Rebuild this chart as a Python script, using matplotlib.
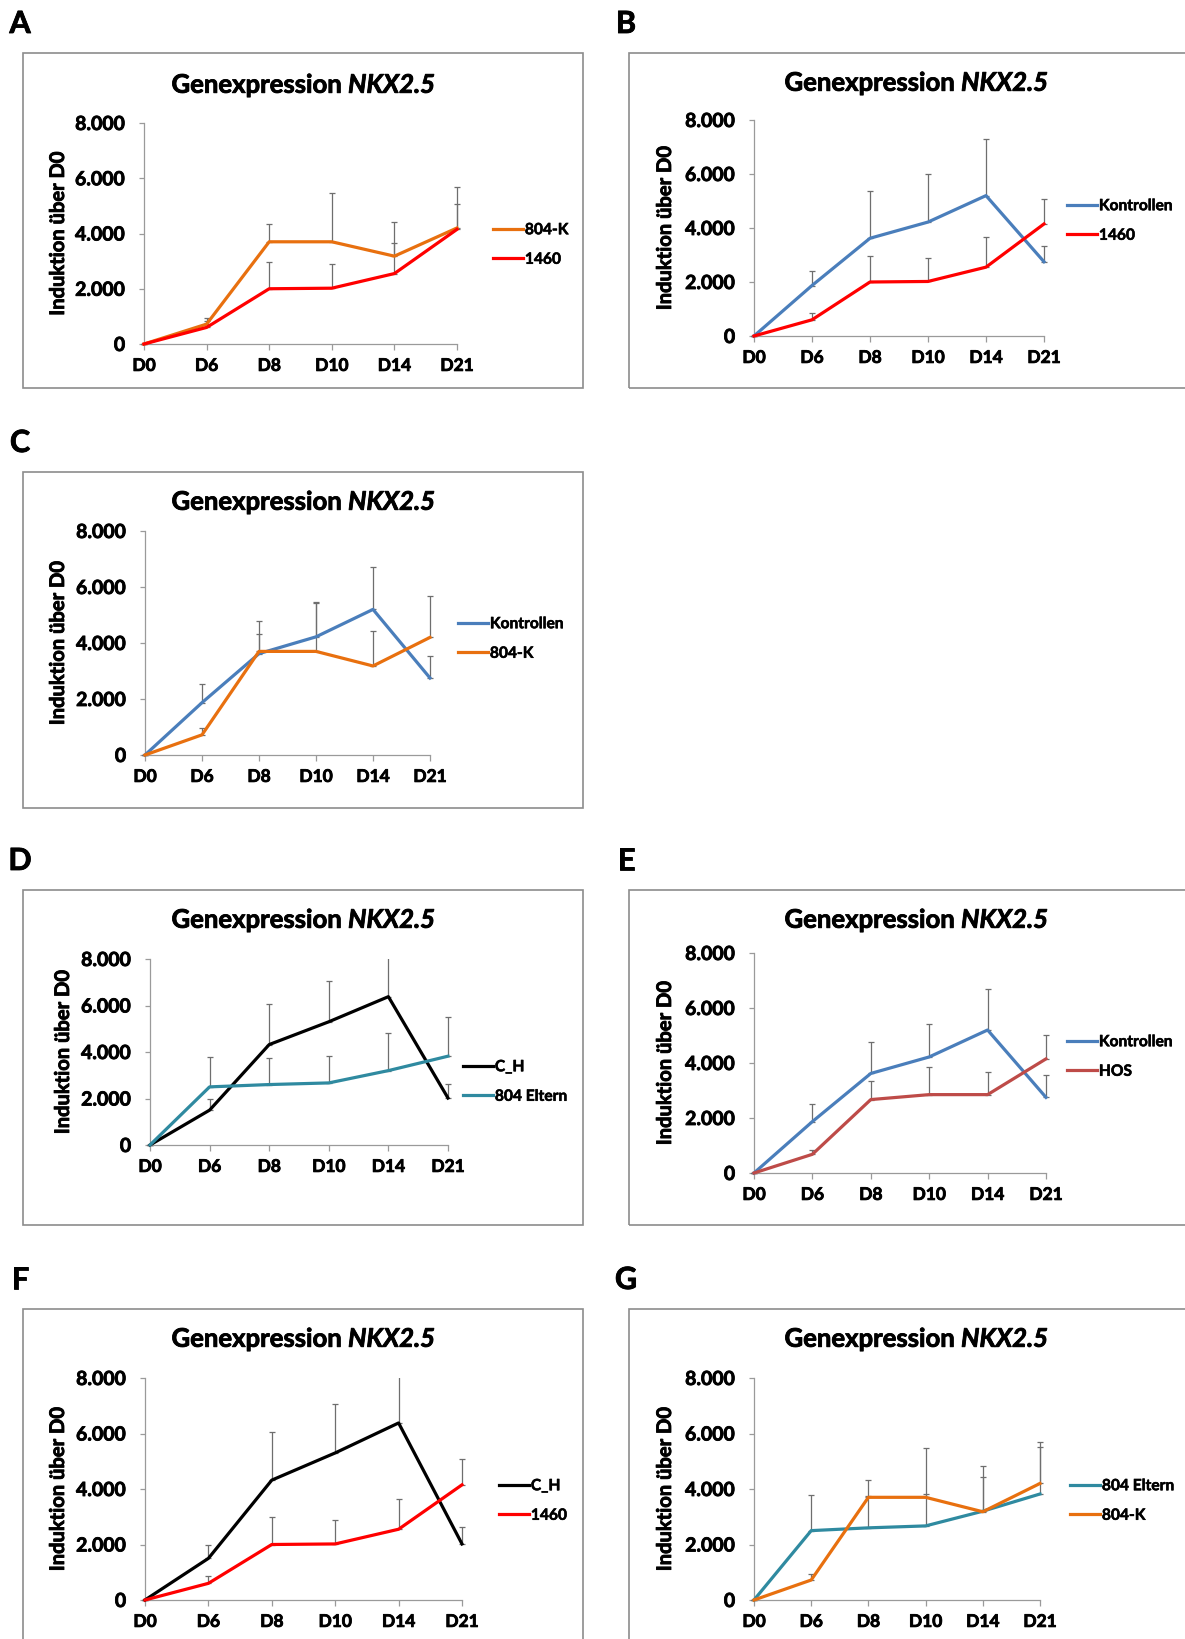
import numpy as np
import matplotlib
matplotlib.use("Agg")
from matplotlib import pyplot as plt
from matplotlib import patheffects as pe
from matplotlib.patches import Rectangle
from matplotlib.ticker import FuncFormatter
from matplotlib.transforms import Bbox, TransformedBbox

plt.rcParams["font.family"] = ["Lato", "DejaVu Sans"]
plt.rcParams["font.weight"] = "bold"
plt.rcParams["mathtext.fontset"] = "custom"
plt.rcParams["mathtext.bfit"] = "Lato:italic:bold"
plt.rcParams["mathtext.rm"] = "Lato:bold"

# categories
days = ["D0", "D6", "D8", "D10", "D14", "D21"]

# series means (Induktion ueber D0)
kontrollen = [0, 1870, 3620, 4220, 5200, 2750]
k804 = [0, 720, 3700, 3700, 3180, 4200]
s1460 = [0, 600, 2000, 2020, 2550, 4150]
c_h = [0, 1500, 4320, 5300, 6380, 2020]
eltern804 = [0, 2500, 2600, 2670, 3200, 3820]
hos = [0, 680, 2670, 2850, 2850, 4150]

# upper error bars
kontrollen_err_b = [0, 550, 1750, 1780, 2100, 600]
kontrollen_err = [0, 650, 1160, 1200, 1500, 800]
k804_err = [0, 230, 630, 1770, 1240, 1480]
s1460_err = [0, 250, 980, 860, 1100, 930]
c_h_err = [0, 500, 1730, 1750, 1700, 600]
eltern804_err = [0, 1300, 1150, 1160, 1630, 1700]
hos_err = [0, 140, 680, 1000, 830, 870]

C_KON = "#4a7ebb"
C_804K = "#e8700f"
C_1460 = "#ff0000"
C_CH = "#000000"
C_ELT = "#2f8aa0"
C_HOS = "#be4b48"

W, H = 1185, 1639
fig = plt.figure(figsize=(W / 100, H / 100), dpi=100)
heavy = [pe.withStroke(linewidth=0.6, foreground="black")]

# letter, box(l,t,r,b), axes(l,r,t,b), title xy, ylabel x, legend xy, series
panels = [
    ("A", (23, 53, 583, 388), (144, 457, 123, 344), (304, 85), 58, (493, 245),
     [("804-K", k804, k804_err, C_804K), ("1460", s1460, s1460_err, C_1460)]),
    ("B", (629, 53, 1205, 388), (754, 1044, 120, 336), (917, 83), 665, (1067, 221),
     [("Kontrollen", kontrollen, kontrollen_err_b, C_KON), ("1460", s1460, s1460_err, C_1460)]),
    ("C", (23, 472, 583, 808), (145, 430, 531, 755), (304, 502), 58, (458, 639),
     [("Kontrollen", kontrollen, kontrollen_err, C_KON), ("804-K", k804, k804_err, C_804K)]),
    ("D", (23, 890, 583, 1225), (150, 448, 959, 1145), (304, 920), 63, (463, 1082),
     [("C_H", c_h, c_h_err, C_CH), ("804 Eltern", eltern804, eltern804_err, C_ELT)]),
    ("E", (629, 890, 1205, 1225), (754, 1046, 953, 1173), (917, 920), 665, (1067, 1057),
     [("Kontrollen", kontrollen, kontrollen_err, C_KON), ("HOS", hos, hos_err, C_HOS)]),
    ("F", (23, 1309, 583, 1660), (145, 462, 1378, 1600), (304, 1339), 58, (499, 1501),
     [("C_H", c_h, c_h_err, C_CH), ("1460", s1460, s1460_err, C_1460)]),
    ("G", (629, 1309, 1205, 1660), (754, 1040, 1378, 1600), (917, 1339), 665, (1070, 1501),
     [("804 Eltern", eltern804, eltern804_err, C_ELT), ("804-K", k804, k804_err, C_804K)]),
]

fmt = FuncFormatter(lambda v, p: "{:,.0f}".format(v).replace(",", "."))
x = np.arange(len(days))

for letter, box, axr, tpos, ylx, lpos, series in panels:
    bl, bt, br, bb = box
    fig.patches.append(Rectangle((bl / W, 1 - bb / H), (br - bl) / W, (bb - bt) / H,
                                 transform=fig.transFigure, fill=False,
                                 edgecolor="#8c8c8c", linewidth=1.2))
    fig.text((bl - 3) / W, 1 - (bt - 29) / H, letter, fontsize=22, fontweight="bold",
             ha="center", va="center", path_effects=heavy)

    l, r, t, b = axr
    ax = fig.add_axes([l / W, 1 - b / H, (r - l) / W, (b - t) / H])
    # error bars may overhang the last category, but not the top of the axis
    clip = TransformedBbox(Bbox([[-0.3, -100], [len(days) - 0.7, 8000]]), ax.transData)
    handles = []
    for name, vals, err, col in series:
        eb = ax.errorbar(x, vals, yerr=[np.zeros(len(err)), err], fmt="none",
                         ecolor="#6e6e6e", elinewidth=0.9, capsize=2.5,
                         capthick=0.9, zorder=2)
        for art in list(eb.lines[1]) + list(eb.lines[2]):
            art.set_clip_box(clip)
    for name, vals, err, col in series:
        ln, = ax.plot(x, vals, color=col, linewidth=2.3, label=name, zorder=3,
                      clip_on=False)
        handles.append(ln)

    ax.set_xlim(0, len(days) - 1)
    ax.set_ylim(0, 8000)
    ax.set_xticks(x)
    ax.set_xticklabels(days)
    ax.set_yticks([0, 2000, 4000, 6000, 8000])
    ax.yaxis.set_major_formatter(fmt)
    for s in ["top", "right"]:
        ax.spines[s].set_visible(False)
    for s in ["left", "bottom"]:
        ax.spines[s].set_color("#9a9a9a")
        ax.spines[s].set_linewidth(0.9)
    ax.tick_params(axis="y", length=3.5, width=0.9, color="#9a9a9a", pad=10,
                   labelsize=14)
    ax.tick_params(axis="x", length=4, width=0.9, color="#9a9a9a", pad=6,
                   labelsize=12.5)
    for lab in ax.get_xticklabels() + ax.get_yticklabels():
        lab.set_fontweight("bold")
        lab.set_path_effects(heavy)
    ax.patch.set_alpha(0)

    fig.text(ylx / W, 1 - (t + b) / 2 / H, "Induktion über D0", rotation=90,
             ha="center", va="center", fontsize=14.5, fontweight="bold",
             path_effects=heavy)
    fig.text(tpos[0] / W, 1 - tpos[1] / H, r"Genexpression $\mathbfit{NKX2.5}$",
             ha="center", va="center", fontsize=18.5, fontweight="bold",
             path_effects=heavy)
    leg = fig.legend(handles=handles, loc="center left",
                     bbox_to_anchor=(lpos[0] / W, 1 - lpos[1] / H),
                     frameon=False, handlelength=1.9, handletextpad=0.15,
                     labelspacing=1.0, borderaxespad=0, borderpad=0,
                     prop={"weight": "bold", "size": 11.2})
    for txt in leg.get_texts():
        txt.set_path_effects([pe.withStroke(linewidth=0.4, foreground="black")])

fig.savefig("out.png", dpi=100)
